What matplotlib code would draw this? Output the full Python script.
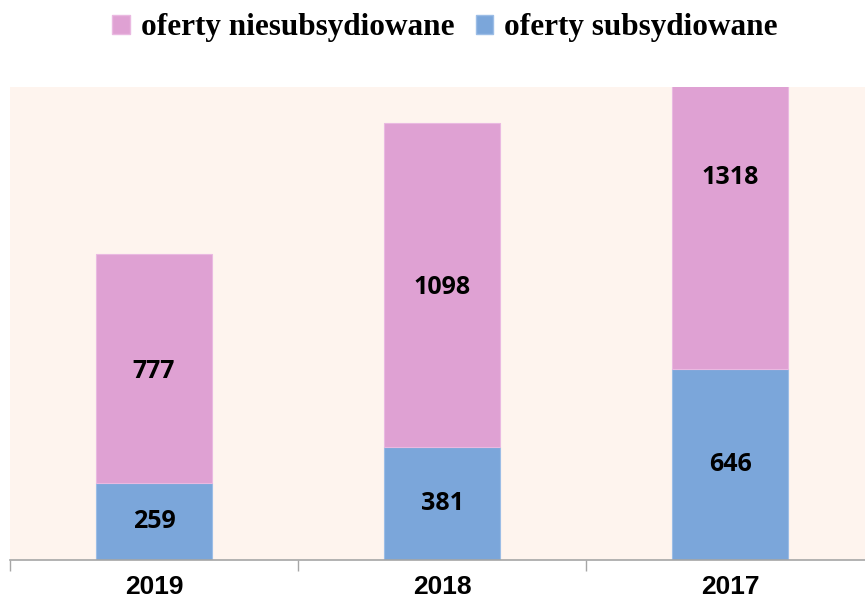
import matplotlib
matplotlib.use("Agg")
import matplotlib.pyplot as plt
from matplotlib.patches import Patch

# dane
years = ["2019", "2018", "2017"]
subsidized = [259, 381, 646]
unsubsidized = [777, 1098, 1318]

PINK = "#DFA1D3"
BLUE = "#7BA6DA"
BG = "#FEF4EE"

fig = plt.figure(figsize=(8.65, 6.01), dpi=100)
ax = fig.add_axes([10 / 865, 41.5 / 601, 855 / 865, 472.2 / 601])
ax.set_facecolor(BG)

x = list(range(len(years)))
ax.bar(x, subsidized, width=0.4, color=BLUE, edgecolor="#9CBDE6", linewidth=0.8)
ax.bar(x, unsubsidized, width=0.4, bottom=subsidized, color=PINK,
       edgecolor="#EAB9E1", linewidth=0.8)

label_font = dict(fontsize=18, fontweight="bold", family=["Open Sans", "DejaVu Sans"],
                  ha="center", va="center", color="black")
for xi, s, u in zip(x, subsidized, unsubsidized):
    ax.text(xi, s / 2, str(s), **label_font)
    ax.text(xi, s + u / 2 - 10, str(u), **label_font)

ax.set_xlim(-0.5, -0.5 + 855 / 288)
ax.set_ylim(0, 1600)
ax.set_yticks([])

for side in ["top", "left", "right"]:
    ax.spines[side].set_visible(False)
ax.spines["bottom"].set_color("#A6A6A6")
ax.spines["bottom"].set_linewidth(1.2)

ax.set_xticks(x)
ax.set_xticklabels(years, fontsize=19, fontweight="bold",
                   family=["Liberation Sans Narrow", "Liberation Sans", "DejaVu Sans"])
ax.tick_params(axis="x", which="major", length=0, pad=11)
ax.set_xticks([-0.5, 0.5, 1.5], minor=True)
ax.tick_params(axis="x", which="minor", length=8, color="#A6A6A6", width=1)

handles = [Patch(facecolor=PINK, edgecolor="#EAB9E1", label="oferty niesubsydiowane"),
           Patch(facecolor=BLUE, edgecolor="#9CBDE6", label="oferty subsydiowane")]
fig.legend(handles=handles, loc="center", bbox_to_anchor=(445 / 865, 1 - 28 / 601),
           ncol=2, frameon=False, handlelength=0.55, handleheight=0.55,
           handletextpad=0.35, columnspacing=0.7,
           prop=dict(family=["Liberation Serif", "DejaVu Serif"], weight="bold", size=22.5))

fig.savefig("out.png", dpi=100)
